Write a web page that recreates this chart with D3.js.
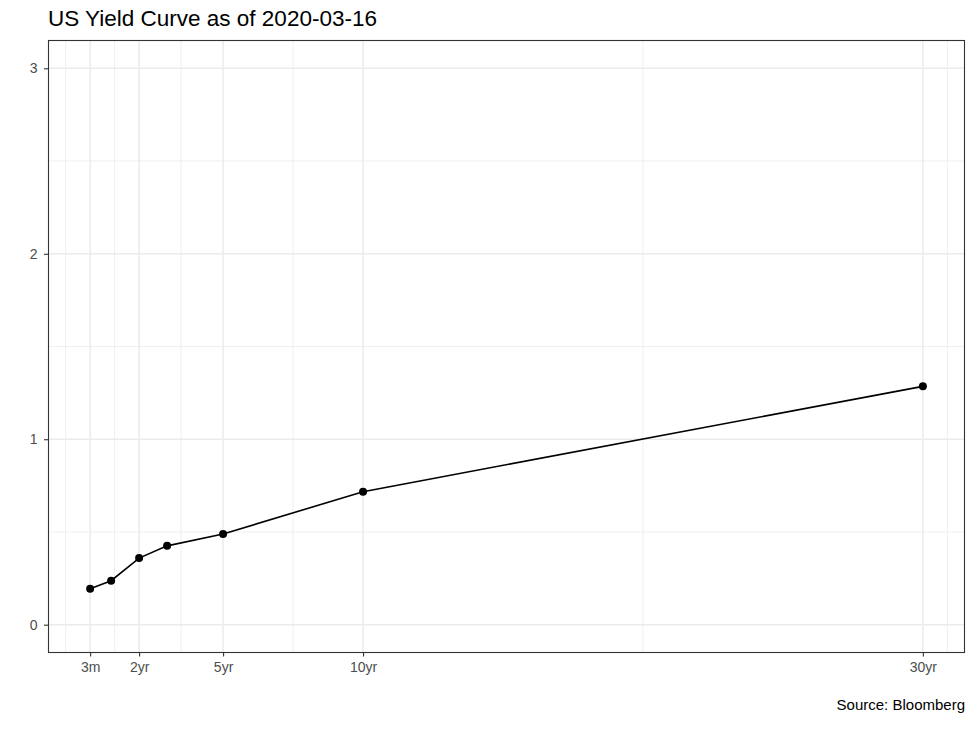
<!DOCTYPE html>
<html>
<head>
<meta charset="utf-8">
<script src="https://cdn.jsdelivr.net/npm/d3@7"></script>
<style>
  html, body { margin: 0; padding: 0; background: #fff; }
  svg { display: block; font-family: "Liberation Sans", Arial, sans-serif; }
</style>
</head>
<body>
<svg id="chart" width="975" height="731"></svg>
<script>
// Data
const maturities = [0.25, 1, 2, 3, 5, 10, 30];
const yields = [0.194, 0.237, 0.359, 0.425, 0.489, 0.717, 1.285];
const xTickValues = [0.25, 2, 5, 10, 30];
const xTickLabels = ["3m", "2yr", "5yr", "10yr", "30yr"];
const xMinorValues = [-0.625, 1.125, 3.5, 7.5, 20, 30.875];
const yTickValues = [0, 1, 2, 3];
const yMinorValues = [0.5, 1.5, 2.5];
const titleText = "US Yield Curve as of 2020-03-16";
const captionText = "Source: Bloomberg";

const panel = { left: 48.5, right: 964.5, top: 40.5, bottom: 652.5 };

const svg = d3.select("#chart");

const x = d3.scaleLinear().domain([-1.2375, 31.4875]).range([panel.left, panel.right]);
const y = d3.scaleLinear().domain([-0.15, 3.15]).range([panel.bottom, panel.top]);

const g = svg.append("g");

g.append("rect").attr("x", panel.left).attr("y", panel.top)
  .attr("width", panel.right - panel.left).attr("height", panel.bottom - panel.top)
  .attr("fill", "#fff");

// minor grid
g.selectAll(".xminor").data(xMinorValues).enter().append("line")
  .attr("x1", d => x(d)).attr("x2", d => x(d))
  .attr("y1", panel.top).attr("y2", panel.bottom)
  .attr("stroke", "#ebebeb").attr("stroke-width", 0.8);
g.selectAll(".yminor").data(yMinorValues).enter().append("line")
  .attr("y1", d => y(d)).attr("y2", d => y(d))
  .attr("x1", panel.left).attr("x2", panel.right)
  .attr("stroke", "#ebebeb").attr("stroke-width", 0.8);
// major grid
g.selectAll(".xmajor").data(xTickValues).enter().append("line")
  .attr("x1", d => x(d)).attr("x2", d => x(d))
  .attr("y1", panel.top).attr("y2", panel.bottom)
  .attr("stroke", "#ebebeb").attr("stroke-width", 1.5);
g.selectAll(".ymajor").data(yTickValues).enter().append("line")
  .attr("y1", d => y(d)).attr("y2", d => y(d))
  .attr("x1", panel.left).attr("x2", panel.right)
  .attr("stroke", "#ebebeb").attr("stroke-width", 1.5);

// line
const line = d3.line().x((d, i) => x(maturities[i])).y(d => y(d));
g.append("path").datum(yields).attr("d", line)
  .attr("fill", "none").attr("stroke", "#000").attr("stroke-width", 1.6);

// points
g.selectAll(".pt").data(yields).enter().append("circle")
  .attr("cx", (d, i) => x(maturities[i])).attr("cy", d => y(d))
  .attr("r", 4).attr("fill", "#000");

// border
g.append("rect").attr("x", panel.left).attr("y", panel.top)
  .attr("width", panel.right - panel.left).attr("height", panel.bottom - panel.top)
  .attr("fill", "none").attr("stroke", "#333").attr("stroke-width", 1.1);

// axes
const xAxis = d3.axisBottom(x).tickValues(xTickValues)
  .tickFormat((d, i) => xTickLabels[i]).tickSize(4).tickPadding(6);
const xa = svg.append("g").attr("transform", `translate(0,${panel.bottom})`).call(xAxis)
  .attr("font-size", null).attr("font-family", null);
xa.select(".domain").remove();
xa.selectAll(".tick line").attr("stroke", "#333").attr("stroke-width", 1.1);
xa.selectAll(".tick text").attr("fill", "#4d4d4d").style("font-size", "14px")
  .style("font-family", "Liberation Sans, Arial, sans-serif");

const yAxis = d3.axisLeft(y).tickValues(yTickValues).tickFormat(d3.format("d")).tickSize(4.5).tickPadding(6.5);
const ya = svg.append("g").attr("transform", `translate(${panel.left},0)`).call(yAxis)
  .attr("font-size", null).attr("font-family", null);
ya.select(".domain").remove();
ya.selectAll(".tick line").attr("stroke", "#333").attr("stroke-width", 1.1);
ya.selectAll(".tick text").attr("fill", "#4d4d4d").style("font-size", "14px")
  .style("font-family", "Liberation Sans, Arial, sans-serif");

// title
svg.append("text").attr("x", 48).attr("y", 26)
  .attr("fill", "#000").style("font-size", "22.5px").text(titleText);

// caption
svg.append("text").attr("x", 965).attr("y", 710).attr("text-anchor", "end")
  .attr("fill", "#000").style("font-size", "15px").text(captionText);
</script>
</body>
</html>
